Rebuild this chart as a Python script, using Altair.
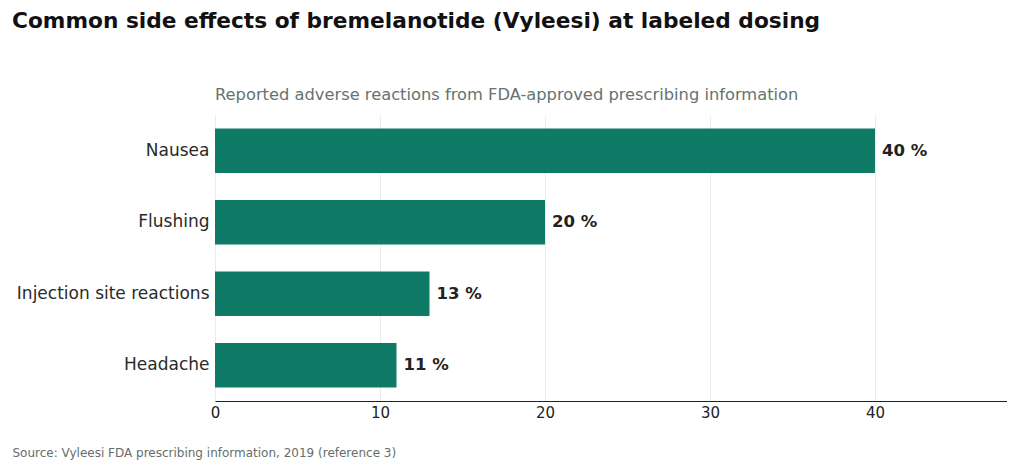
import altair as alt
import pandas as pd

categories = ["Nausea", "Flushing", "Injection site reactions", "Headache"]
values = [40, 20, 13, 11]
labels = ["40 %", "20 %", "13 %", "11 %"]
x_ticks = [0, 10, 20, 30, 40]

df = pd.DataFrame({"effect": categories, "pct": values, "label": labels})

FONT = "DejaVu Sans"
GREEN = "#0f7b66"

y_enc = alt.Y("effect:N", sort=categories, title=None,
              scale=alt.Scale(paddingInner=0.38, paddingOuter=0.19),
              axis=alt.Axis(ticks=False, domain=False, labelFontSize=17, labelLimit=400,
                            labelColor="#2a2a2a", labelPadding=6, labelFont=FONT))
x_enc = alt.X("pct:Q", scale=alt.Scale(domain=[0, 48], nice=False),
              title="Source: Vyleesi FDA prescribing information, 2019 (reference 3)",
              axis=alt.Axis(values=x_ticks, ticks=False, domain=True, domainColor="#222222",
                            domainWidth=1, labelFontSize=15, labelColor="#222222",
                            labelPadding=4, labelFlush=False, gridColor="#ebebeb", grid=True,
                            labelFont=FONT,
                            titleFont=FONT, titleFontSize=12, titleFontWeight="normal",
                            titleColor="#666d6a", titleAnchor="start", titleAlign="left",
                            titleX=-203, titleY=46))

bars = alt.Chart(df).mark_bar(color=GREEN).encode(x=x_enc, y=y_enc)
text = alt.Chart(df).mark_text(align="left", baseline="middle", dx=7, fontSize=16.5,
                               fontWeight="bold", color="#222222", font=FONT).encode(
    x="pct:Q", y=alt.Y("effect:N", sort=categories), text="label:N")

inner = alt.layer(bars, text).properties(
    width=792, height=286,
    view=alt.ViewBackground(stroke="transparent", strokeWidth=0),
    title=alt.TitleParams("Reported adverse reactions from FDA-approved prescribing information",
                          anchor="start", frame="group", fontSize=16.3, fontWeight="normal",
                          color="#667370", font=FONT, offset=12),
)

chart = alt.vconcat(inner).properties(
    title=alt.TitleParams("Common side effects of bremelanotide (Vyleesi) at labeled dosing",
                          anchor="start", frame="bounds", fontSize=21.7, fontWeight="bold",
                          color="#111111", font=FONT, offset=54),
    padding={"left": 4, "top": 3, "right": 0, "bottom": 5},
).configure_view(strokeWidth=0, stroke="transparent").configure(font=FONT)

chart.save("out.html", embed_options={"renderer": "svg", "actions": False})
